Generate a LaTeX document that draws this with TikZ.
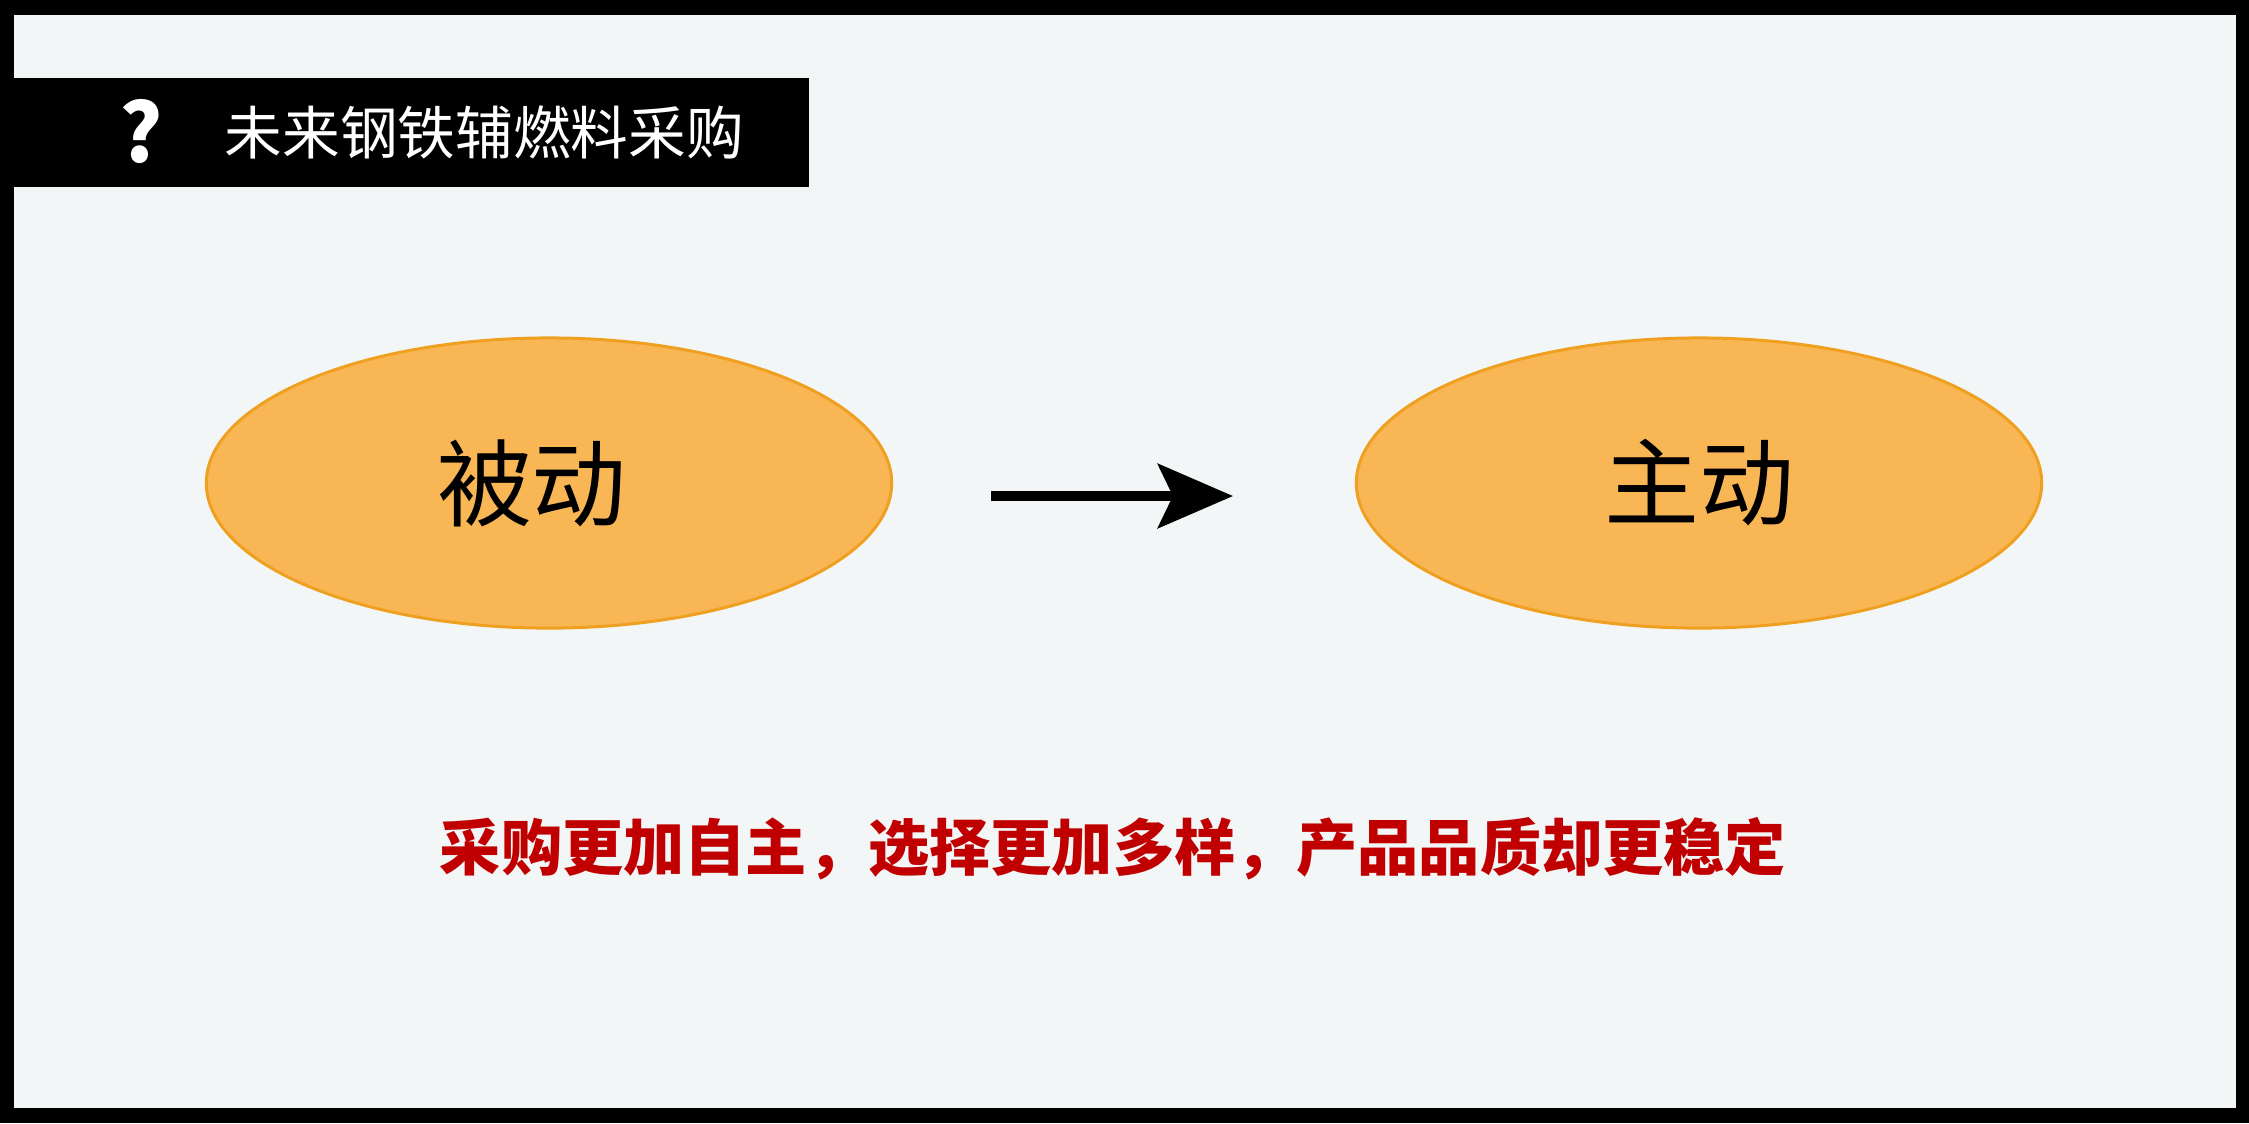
\documentclass[tikz,border=0pt]{standalone}
\usepackage{fontspec}
\setmainfont{Noto Sans CJK SC}
\usetikzlibrary{positioning, shapes.geometric, arrows.meta}

\definecolor{paper}{HTML}{F3F6F6}
\definecolor{eggfill}{HTML}{F8B655}
\definecolor{eggline}{HTML}{F0A020}
\definecolor{slogan}{HTML}{C00000}

\begin{document}
\begin{tikzpicture}[
    x=0.01cm, y=-0.01cm,
    >=Stealth,
    egg/.style={ellipse, draw=eggline, line width=0.85pt, fill=eggfill, minimum width=6.85cm, minimum height=2.9cm, inner sep=0pt, font=\fontsize{27}{30}\selectfont},
    headline/.style={inner sep=0pt, text=white, font=\fontsize{16.4}{18}\selectfont},
    message/.style={inner sep=0pt, text=slogan, font=\fontsize{17.4}{20}\selectfont\bfseries}
]
\useasboundingbox (0,0) rectangle (2249,1123);

% 1. Frame and paper
\fill[black] (0,0) rectangle (2249,1123);
\fill[paper] (14,15) rectangle (2236,1108);

% 2. Title bar (top left)
\fill[black] (14,78) rectangle (809,187);
\node[headline, font=\fontsize{23}{26}\selectfont\bfseries] (qmark) at (141,132) {?};
\node[headline, anchor=west] (title) at (224,132) {未来钢铁辅燃料采购};

% 3. Ellipses
\node[egg] (passive) at (549,483) {被动\kern0.34cm};
\node[egg] (active) at (1699,483) {主动};

% 4. Arrow between them
\coordinate (arrowStart) at (991,496);
\coordinate (arrowEnd) at (1233,496);
\draw[-{Stealth[length=0.75cm, width=0.64cm, inset=0.15cm]}, line width=2.85pt] (arrowStart) -- (arrowEnd);

% 5. Message (bottom)
\node[message] (summary) at (1113,849) {采购更加自主，选择更加多样，产品品质却更稳定};

\end{tikzpicture}
\end{document}
